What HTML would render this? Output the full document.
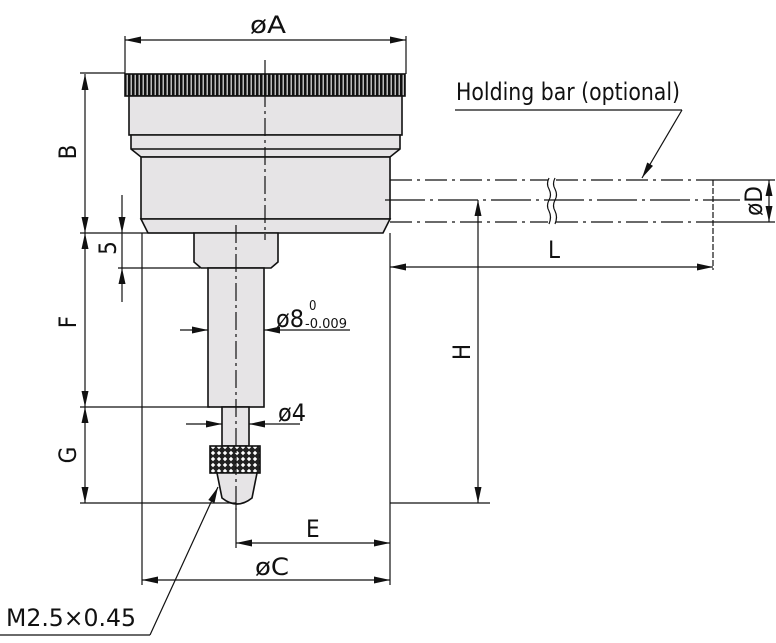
<!DOCTYPE html><html><head><style>body{margin:0;background:#fff}svg{display:block}text{font-family:"Liberation Sans Narrow","DejaVu Sans Condensed","Liberation Sans",sans-serif;fill:#111}</style></head><body>
<svg width="776" height="643" viewBox="0 0 776 643" xmlns="http://www.w3.org/2000/svg">
<defs>
<pattern id="k" width="4" height="22" patternUnits="userSpaceOnUse"><rect width="4" height="22" fill="#bbb"/><rect width="2.5" height="22" fill="#111"/></pattern>
<pattern id="x" width="6" height="6" patternUnits="userSpaceOnUse"><rect width="6" height="6" fill="#222"/><path d="M3,0.8L5.2,3L3,5.2L0.8,3z" fill="#fff"/></pattern>
</defs>
<g stroke="#111" stroke-width="1.6" fill="#e6e4e6">
<rect x="125" y="74" width="280" height="22" fill="url(#k)"/>
<rect x="129" y="96" width="273" height="39"/>
<path d="M131,135H400V149L390,157H141L131,149Z"/>
<line x1="131" y1="149" x2="400" y2="149"/>
<rect x="141" y="157" width="249" height="62"/>
<path d="M141,219H390L383,233H148Z"/>
<path d="M194,233H278V262L271,268H201L194,262Z"/>
<rect x="208" y="268" width="56" height="139"/>
<rect x="222" y="407" width="27" height="39"/>
<rect x="210" y="446" width="50" height="27" fill="url(#x)"/>
<path d="M217,473H257L252,498Q237,510 222,498Z"/>
</g>
<g stroke="#111" stroke-width="1.2" fill="none">
<line x1="265" y1="60" x2="265" y2="240" stroke-dasharray="18,4,3,4"/>
<line x1="236" y1="225" x2="236" y2="510" stroke-dasharray="18,4,3,4"/>
<line x1="125" y1="36" x2="125" y2="74"/><line x1="406" y1="36" x2="406" y2="74"/>
<line x1="125" y1="40" x2="406" y2="40"/>
<line x1="80" y1="73" x2="125" y2="73"/><line x1="80" y1="233" x2="194" y2="233"/>
<line x1="85" y1="74" x2="85" y2="503"/>
<line x1="80" y1="407" x2="210" y2="407"/><line x1="80" y1="503" x2="236" y2="503"/>
<line x1="118" y1="268" x2="200" y2="268"/>
<line x1="122" y1="195" x2="122" y2="302"/>
<line x1="142" y1="233" x2="142" y2="585"/><line x1="390" y1="233" x2="390" y2="585"/>
<line x1="236" y1="503" x2="236" y2="548"/>
<line x1="236" y1="543" x2="390" y2="543"/>
<line x1="142" y1="580" x2="390" y2="580"/>
<line x1="390" y1="180" x2="548" y2="180" stroke-dasharray="22,5,3,5"/>
<line x1="556" y1="180" x2="713" y2="180" stroke-dasharray="22,5,3,5"/>
<line x1="390" y1="222" x2="548" y2="222" stroke-dasharray="22,5,3,5"/>
<line x1="556" y1="222" x2="713" y2="222" stroke-dasharray="22,5,3,5"/>
<line x1="385" y1="200" x2="740" y2="200" stroke-dasharray="40,5,3,5"/>
<path d="M549,178q-3,6 0,11q3,6 0,11q-3,6 0,11q3,6 0,13M555,178q-3,6 0,11q3,6 0,11q-3,6 0,11q3,6 0,13"/>
<line x1="713" y1="180" x2="713" y2="270" stroke-dasharray="6,2"/>
<line x1="713" y1="180" x2="775" y2="180"/><line x1="713" y1="222" x2="775" y2="222"/>
<line x1="769" y1="180" x2="769" y2="222"/>
<line x1="390" y1="267" x2="713" y2="267"/>
<line x1="478" y1="200" x2="478" y2="503"/>
<line x1="390" y1="503" x2="490" y2="503"/>
<line x1="180" y1="330" x2="208" y2="330"/>
<line x1="350" y1="330" x2="264" y2="330"/>
<line x1="186" y1="424" x2="222" y2="424"/>
<line x1="300" y1="424" x2="249" y2="424"/>
<line x1="0" y1="635" x2="150" y2="635"/>
<line x1="150" y1="635" x2="218" y2="487"/>
<line x1="455" y1="110" x2="682" y2="110"/>
<line x1="682" y1="110" x2="642" y2="178"/>
</g>
<g fill="#111">
<polygon points="125,40 141,36.5 141,43.5"/><polygon points="406,40 390,36.5 390,43.5"/>
<polygon points="85,74 81.5,90 88.5,90"/><polygon points="85,233 81.5,217 88.5,217"/>
<polygon points="85,233 81.5,249 88.5,249"/><polygon points="85,407 81.5,391 88.5,391"/>
<polygon points="85,407 81.5,423 88.5,423"/><polygon points="85,503 81.5,487 88.5,487"/>
<polygon points="122,233 118.5,217 125.5,217"/><polygon points="122,268 118.5,284 125.5,284"/>
<polygon points="236,543 252,539.5 252,546.5"/><polygon points="390,543 374,539.5 374,546.5"/>
<polygon points="142,580 158,576.5 158,583.5"/><polygon points="390,580 374,576.5 374,583.5"/>
<polygon points="769,180 765.5,196 772.5,196"/><polygon points="769,222 765.5,206 772.5,206"/>
<polygon points="390,267 406,263.5 406,270.5"/><polygon points="713,267 697,263.5 697,270.5"/>
<polygon points="478,200 474.5,216 481.5,216"/><polygon points="478,503 474.5,487 481.5,487"/>
<polygon points="208,330 192,326.5 192,333.5"/><polygon points="264,330 280,326.5 280,333.5"/>
<polygon points="222,424 206,420.5 206,427.5"/><polygon points="249,424 265,420.5 265,427.5"/>
<polygon points="218,487 214.5,503 208.3,500"/>
<polygon points="642,178 653,165.9 647.2,162.5"/>
</g>
<g font-size="24">
<text x="250" y="33" textLength="36" lengthAdjust="spacingAndGlyphs">øA</text>
<text x="456" y="100" textLength="224" lengthAdjust="spacingAndGlyphs">Holding bar (optional)</text>
<text x="548" y="258">L</text>
<text x="306" y="537">E</text>
<text x="255" y="575" textLength="34" lengthAdjust="spacingAndGlyphs">øC</text>
<text x="276" y="327" textLength="28" lengthAdjust="spacingAndGlyphs">ø8</text>
<text x="309" y="310" font-size="13">0</text>
<text x="305" y="328" font-size="13" textLength="42" lengthAdjust="spacingAndGlyphs">-0.009</text>
<text x="278" y="421" textLength="28" lengthAdjust="spacingAndGlyphs">ø4</text>
<text x="6" y="626" textLength="130" lengthAdjust="spacingAndGlyphs">M2.5×0.45</text>
<text transform="translate(76,152) rotate(-90)" text-anchor="middle">B</text>
<text transform="translate(116,248) rotate(-90)" text-anchor="middle">5</text>
<text transform="translate(76,322) rotate(-90)" text-anchor="middle">F</text>
<text transform="translate(76,455) rotate(-90)" text-anchor="middle">G</text>
<text transform="translate(470,352) rotate(-90)" text-anchor="middle">H</text>
<text transform="translate(762,201) rotate(-90)" text-anchor="middle">øD</text>
</g>
</svg></body></html>
